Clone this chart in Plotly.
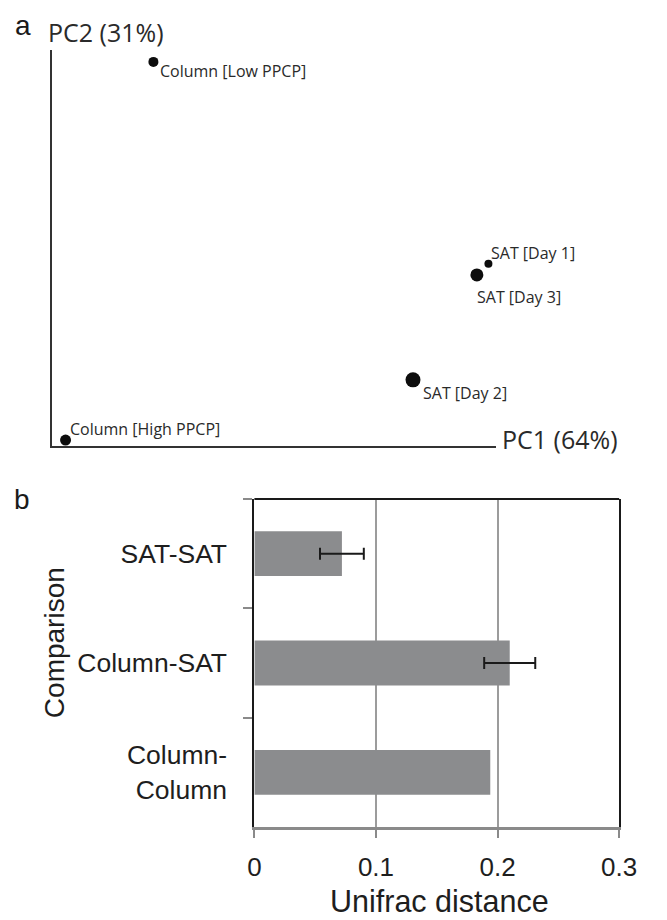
import plotly.graph_objects as go

# ---------------- data ----------------
# Panel a: PCoA scores (arbitrary units)
pca_labels = ["Column [Low PPCP]", "SAT [Day 1]", "SAT [Day 3]", "SAT [Day 2]", "Column [High PPCP]"]
pc1 = [0.228, 0.983, 0.957, 0.813, 0.030]
pc2 = [0.970, 0.460, 0.432, 0.167, 0.015]
pc1_title = "PC1 (64%)"
pc2_title = "PC2 (31%)"

# Panel b: Unifrac distances
comparisons = ["Column-Column", "Column-SAT", "SAT-SAT"]
comparison_ticktext = ["Column-<br>Column", "Column-SAT", "SAT-SAT"]
unifrac = [0.194, 0.210, 0.072]
# error bars (only two comparisons have them)
err_comparisons = ["Column-SAT", "SAT-SAT"]
err_values = [0.210, 0.072]
err_sizes = [0.021, 0.018]
x_tickvals = [0, 0.1, 0.2, 0.3]
x_ticktext = ["0", "0.1", "0.2", "0.3"]

W, H = 667, 920

def px_x(p):
    return p / W

def px_y(p):
    return 1 - p / H

fig = go.Figure()

# ---------- panel a ----------
marker_sizes = [10, 8, 13, 15, 11]
fig.add_trace(go.Scatter(
    x=pc1, y=pc2, mode="markers",
    marker=dict(color="#0d0d0d", size=marker_sizes, opacity=1, line=dict(width=0)),
    xaxis="x2", yaxis="y2", cliponaxis=False, showlegend=False, hoverinfo="skip",
))

label_offsets = [(5, -9), (1, 11), (-2, -22), (8, -13), (2, 11)]
for lab, xv, yv, (dx, dy) in zip(pca_labels, pc1, pc2, label_offsets):
    fig.add_annotation(
        x=xv, y=yv, xref="x2", yref="y2", text=lab, showarrow=False,
        xanchor="left", yanchor="middle", xshift=dx, yshift=dy,
        font=dict(family="Open Sans", size=16, color="#2a2a2a"),
    )

# ---------- panel b ----------
fig.add_trace(go.Bar(
    y=comparisons, x=unifrac, orientation="h",
    marker=dict(color="#8b8c8e", line=dict(width=0)),
    width=0.41,
    xaxis="x", yaxis="y", showlegend=False, hoverinfo="skip",
))
fig.add_trace(go.Scatter(
    y=err_comparisons, x=err_values, mode="markers",
    marker=dict(size=1, opacity=0),
    error_x=dict(type="data", array=err_sizes, visible=True,
                 color="#1a1a1a", thickness=2, width=6),
    xaxis="x", yaxis="y", showlegend=False, hoverinfo="skip",
))

fig.update_layout(
    width=W, height=H, autosize=False,
    margin=dict(l=0, r=0, t=0, b=0),
    paper_bgcolor="white", plot_bgcolor="white",
    xaxis=dict(
        domain=[px_x(257), px_x(636)], anchor="y",
        range=[0, 0.3], tickvals=x_tickvals, ticktext=x_ticktext,
        showgrid=True, gridcolor="#9c9c9c", gridwidth=1.5,
        showline=True, linecolor="#8a8a8a", linewidth=2.5,
        ticks="outside", ticklen=8, tickwidth=2, tickcolor="#8a8a8a",
        ticklabelstandoff=7, zeroline=False,
        tickfont=dict(family="Liberation Sans", size=26, color="#1e1e1e"),
    ),
    yaxis=dict(
        domain=[px_y(827), px_y(499)], anchor="x",
        type="category", categoryorder="array", categoryarray=comparisons,
        tickvals=comparisons, ticktext=comparison_ticktext,
        range=[-0.5, 2.5], tickson="boundaries",
        showline=True, linecolor="#1a1a1a", linewidth=2, mirror=True,
        ticks="outside", ticklen=9, tickwidth=2, tickcolor="#8a8a8a",
        ticklabelstandoff=20, showgrid=False, zeroline=False,
        tickfont=dict(family="Liberation Sans", size=26.5, color="#1e1e1e"),
    ),
    xaxis2=dict(
        domain=[px_x(47), px_x(508)], anchor="y2", range=[0, 1],
        showline=True, linecolor="#333333", linewidth=2,
        showticklabels=False, ticks="", showgrid=False, zeroline=False,
    ),
    yaxis2=dict(
        domain=[px_y(446), px_y(50)], anchor="x2", range=[0, 1],
        showline=True, linecolor="#333333", linewidth=2,
        showticklabels=False, ticks="", showgrid=False, zeroline=False,
    ),
)

# top border of panel b
fig.add_shape(type="line", xref="x domain", yref="y domain", x0=0, x1=1, y0=1, y1=1,
              line=dict(color="#1a1a1a", width=2))

# text annotations
fig.add_annotation(x=px_x(6), y=px_y(25), xref="paper", yref="paper", text="a",
                   showarrow=False, xanchor="left", yanchor="middle",
                   font=dict(family="Liberation Sans", size=28, color="#1a1a1a"))
fig.add_annotation(x=px_x(5), y=px_y(499), xref="paper", yref="paper", text="b",
                   showarrow=False, xanchor="left", yanchor="middle",
                   font=dict(family="Liberation Sans", size=28, color="#1a1a1a"))
fig.add_annotation(x=px_x(41), y=px_y(32), xref="paper", yref="paper", text=pc2_title,
                   showarrow=False, xanchor="left", yanchor="middle",
                   font=dict(family="Open Sans", size=25, color="#2a2a2a"))
fig.add_annotation(x=px_x(512), y=px_y(439), xref="paper", yref="paper", text=pc1_title,
                   showarrow=False, xanchor="left", yanchor="middle",
                   font=dict(family="Open Sans", size=25, color="#2a2a2a"))
fig.add_annotation(x=px_x(49), y=px_y(643), xref="paper", yref="paper", text="Comparison",
                   showarrow=False, textangle=-90, xanchor="center", yanchor="middle",
                   font=dict(family="Liberation Sans", size=28, color="#1e1e1e"))
fig.add_annotation(x=px_x(449), y=px_y(901), xref="paper", yref="paper", text="Unifrac distance",
                   showarrow=False, xanchor="center", yanchor="middle", borderpad=0,
                   font=dict(family="Liberation Sans", size=30.5, color="#1e1e1e"))

fig.write_html(
    "out.html",
    config={"responsive": False, "displayModeBar": False},
    post_script="document.body.style.margin='0';document.body.style.overflow='hidden';",
)
